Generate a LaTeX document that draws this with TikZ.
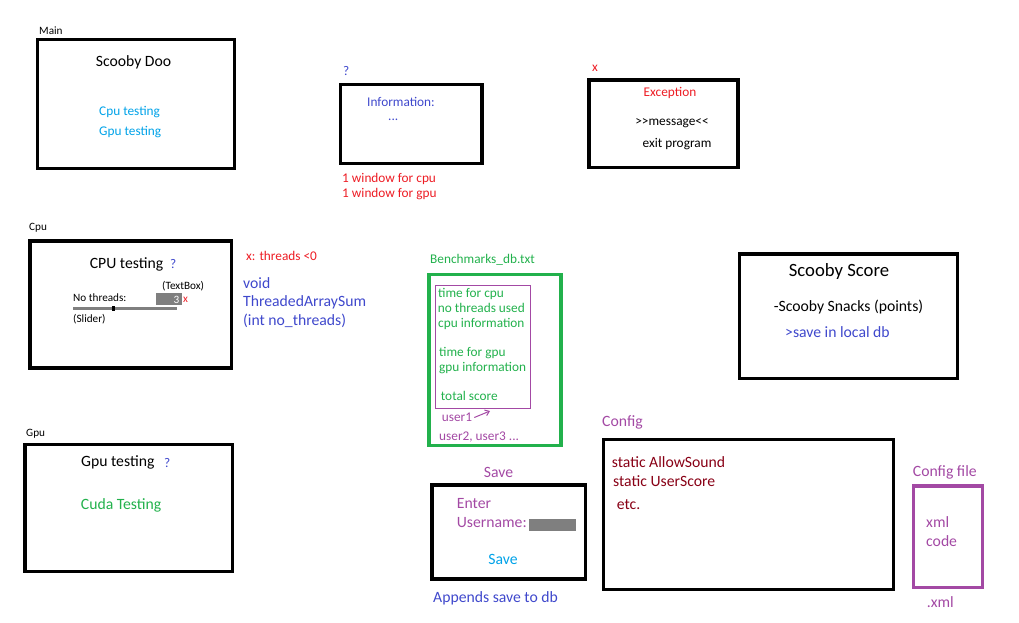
\documentclass[tikz,border=0pt]{standalone}
\usepackage{fontspec}
\setmainfont{Carlito}
\usetikzlibrary{arrows.meta}
\definecolor{cpurple}{RGB}{163,73,164}
\definecolor{cindigo}{RGB}{63,72,204}
\definecolor{clblue}{RGB}{0,162,232}
\definecolor{cgreen}{RGB}{34,177,76}
\definecolor{cred}{RGB}{237,28,36}
\definecolor{cdred}{RGB}{136,0,21}
\definecolor{cgrey}{RGB}{127,127,127}
\newcommand\szsmall{\fontsize{11.2}{13}\selectfont}
\newcommand\sznorm{\fontsize{13.3}{16}\selectfont}
\newcommand\szlarge{\fontsize{15.7}{19}\selectfont}
\newcommand\szxl{\fontsize{18.7}{22}\selectfont}
\tikzset{
  txt/.style={inner sep=0pt, anchor=west, text height=1.0em, text depth=.134em},
  ctxt/.style={txt, anchor=center},
  win/.style={draw=black, line width=3.3pt, inner sep=0pt},
  arr/.style={draw=cpurple, line width=1pt, -{Straight Barb[length=4pt,width=6pt]}},
}
\begin{document}
\begin{tikzpicture}[x=1pt,y=-1pt]
\useasboundingbox (0,0) rectangle (1019,622);

% ---- Main window
\node[txt,font=\szsmall] (mainlbl) at (39,30) {Main};
\node[win, minimum width=196.6pt, minimum height=129pt] (mainbox) at (136,103.8) {};
\node[ctxt,font=\szlarge] (title) at (133.5,62.5) {Scooby Doo};
\node[txt,font=\sznorm,text=clblue] (cpulink) at (99,111) {Cpu testing};
\node[txt,font=\sznorm,text=clblue] (gpulink) at (99,131) {Gpu testing};

% ---- Information window
\node[txt,font=\sznorm,text=cindigo] (infolbl) at (343,71.5) {?};
\node[win, minimum width=141.5pt, minimum height=79pt] (infobox) at (411.25,124) {};
\node[txt,font=\sznorm,text=cindigo] (infotxt) at (367,102) {Information:};
\node[inner sep=0pt,anchor=base west,font=\sznorm,text=cindigo] (infodots) at (388,120) {...};
\node[txt,font=\sznorm,text=cred] (win1) at (342,178) {1 window for cpu};
\node[txt,font=\sznorm,text=cred] (win2) at (342,193) {1 window for gpu};

% ---- Exception window
\node[txt,font=\sznorm,text=cred] (exlbl) at (592,67.5) {x};
\node[win, minimum width=149pt, minimum height=87.5pt] (exbox) at (663.5,123.75) {};
\node[ctxt,font=\sznorm,text=cred] (extitle) at (670,92) {Exception};
\node[ctxt,font=\sznorm] (exmsg) at (672,121) {>{}>message<{}<};
\node[ctxt,font=\sznorm] (exexit) at (677,143.5) {exit program};

% ---- Cpu window
\node[txt,font=\szsmall] (cpulbl) at (29,226) {Cpu};
\node[win, minimum width=201.5pt, minimum height=127pt] (cpubox) at (130.75,304.5) {};
\node[ctxt,font=\szlarge] (cputitle) at (126.5,264) {CPU testing};
\node[txt,font=\sznorm,text=cindigo] (cpuq) at (170,264) {?};
\node[txt,font=\szsmall] (tblbl) at (162,285.5) {(TextBox)};
\node[txt,font=\szsmall] (ntlbl) at (73,297) {No threads:};
\fill[cgrey] (156,293) rectangle (182,305);
\node[inner sep=0pt,anchor=base east,font=\szsmall,text=white] (tbval) at (179.5,303) {3};
\node[txt,font=\szsmall,text=cred] (tbx) at (183,298.5) {x};
\draw[cgrey, line width=3pt] (73,308.5) -- (177,308.5);
\fill[black] (112,306) rectangle (115,310.5);
\node[txt,font=\szsmall] (sllbl) at (73,318.5) {(Slider)};
\node[txt,font=\sznorm,text=cred] (thrx) at (246,256.5) {x: threads <0};
\node[txt,font=\szlarge,text=cindigo] (fn1) at (243,284) {void};
\node[txt,font=\szlarge,text=cindigo] (fn2) at (243,302) {ThreadedArraySum};
\node[txt,font=\szlarge,text=cindigo] (fn3) at (243,321) {(int no\_threads)};

% ---- Benchmarks db
\node[txt,font=\sznorm,text=cgreen] (dblbl) at (430,259.5) {Benchmarks\_db.txt};
\node[draw=cgreen, line width=3.3pt, inner sep=0pt, minimum width=132pt, minimum height=171pt] (dbbox) at (495,360) {};
\node[draw=cpurple, line width=1pt, inner sep=0pt, minimum width=95.7pt, minimum height=123.3pt] (recbox) at (482.85,346.65) {};
\node[txt,font=\sznorm,text=cgreen] (r1) at (438,293.5) {time for cpu};
\node[txt,font=\sznorm,text=cgreen] (r2) at (437.7,308.5) {no threads used};
\node[txt,font=\sznorm,text=cgreen] (r3) at (438,323) {cpu information};
\node[txt,font=\sznorm,text=cgreen] (r4) at (439,352.5) {time for gpu};
\node[txt,font=\sznorm,text=cgreen] (r5) at (439,367.5) {gpu information};
\node[txt,font=\sznorm,text=cgreen] (r6) at (440.7,396) {total score};
\node[txt,font=\sznorm,text=cpurple] (user1) at (441.7,417.5) {user1};
\coordinate (u1head) at (490,411);
\draw[arr] ([xshift=2pt]user1.east) -- (u1head);
\node[txt,font=\sznorm,text=cpurple] (users) at (439,436) {user2, user3 ...};

% ---- Scooby Score
\node[win, minimum width=218pt, minimum height=124.5pt] (scorebox) at (848.5,316.25) {};
\node[ctxt,font=\szxl] (scoretitle) at (839,272.5) {Scooby Score};
\node[ctxt,font=\szlarge] (snacks) at (848.5,307.5) {-Scooby Snacks (points)};
\node[txt,font=\szlarge,text=cindigo] (savedb) at (785,333) {>save in local db};

% ---- Gpu window
\node[txt,font=\szsmall] (gpulbl) at (26,432) {Gpu};
\node[win, minimum width=207.5pt, minimum height=127pt] (gpubox) at (128.75,508) {};
\node[txt,font=\szlarge] (gputitle) at (81,462.5) {Gpu testing};
\node[txt,font=\sznorm,text=cindigo] (gpuq) at (164,463) {?};
\node[txt,font=\szlarge,text=cgreen] (cuda) at (80.7,505) {Cuda Testing};

% ---- Save window
\node[ctxt,font=\szlarge,text=cpurple] (savelbl) at (498.5,473.5) {Save};
\node[win, minimum width=153.5pt, minimum height=94pt] (savebox) at (508.75,532) {};
\node[txt,font=\szlarge,text=cpurple] (enter) at (456.7,504) {Enter};
\node[txt,font=\szlarge,text=cpurple] (uname) at (456.7,523) {Username:};
\fill[cgrey] (529,519) rectangle (576,531);
\node[ctxt,font=\szlarge,text=clblue] (savebtn) at (503,560) {Save};
\node[txt,font=\szlarge,text=cindigo] (appends) at (433,598) {Appends save to db};

% ---- Config
\node[txt,font=\szlarge,text=cpurple] (cfglbl) at (602,422) {Config};
\node[win, minimum width=290pt, minimum height=150pt] (cfgbox) at (748.5,514.5) {};
\node[txt,font=\szlarge,text=cdred] (c1) at (611.7,463.5) {static AllowSound};
\node[txt,font=\szlarge,text=cdred] (c2) at (613,482.5) {static UserScore};
\node[txt,font=\szlarge,text=cdred] (c3) at (616.7,505.5) {etc.};

% ---- Config file
\node[txt,font=\szlarge,text=cpurple] (cflbl) at (912.7,472) {Config file};
\node[draw=cpurple, line width=3.3pt, inner sep=0pt, minimum width=69pt, minimum height=101.5pt] (cfbox) at (948,536.75) {};
\node[txt,font=\szlarge,text=cpurple] (xml1) at (926,523) {xml};
\node[txt,font=\szlarge,text=cpurple] (xml2) at (926,542) {code};
\node[txt,font=\szlarge,text=cpurple] (xmlext) at (926.7,603) {.xml};
\end{tikzpicture}
\end{document}
